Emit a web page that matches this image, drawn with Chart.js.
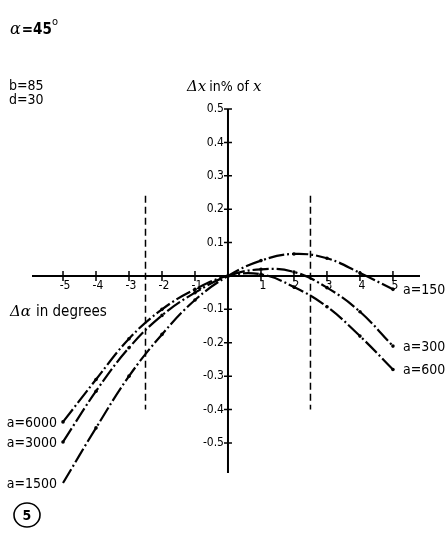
<!DOCTYPE html>
<html lang="en">
<head>
    <meta charset="UTF-8">
    <title>Delta x vs Delta alpha</title>
    <style>
        html, body { margin: 0; padding: 0; background: #fff; }
        canvas { display: block; }
    </style>
</head>
<body>

    <canvas id="myChart" width="446" height="538"></canvas>

    <script src="https://cdn.jsdelivr.net/npm/chart.js"></script>
    <script>
        // values
        const xDeg = [-5, -4, -3, -2, -1, 0, 1, 2, 3, 4, 5];
        const a1500 = [-0.62, -0.455, -0.3, -0.175, -0.072, 0, 0.046, 0.066, 0.053, 0.009, -0.04];
        const a3000 = [-0.497, -0.345, -0.215, -0.118, -0.05, 0, 0.02, 0.012, -0.035, -0.107, -0.21];
        const a6000 = [-0.437, -0.31, -0.188, -0.1, -0.04, 0, 0.005, -0.033, -0.092, -0.18, -0.28];
        const seriesNames = ['a=1500', 'a=3000', 'a=6000'];

        const limitX = [-2.5, 2.5];
        const limitY = [0.24, -0.4];

        const xTicks = [-5, -4, -3, -2, -1, 1, 2, 3, 4, 5];
        const yTicks = [0.5, 0.4, 0.3, 0.2, 0.1, -0.1, -0.2, -0.3, -0.4, -0.5];
        const yTickLabels = ['0.5', '0.4', '0.3', '0.2', '0.1', '-0.1', '-0.2', '-0.3', '-0.4', '-0.5'];

        const sansC = '"DejaVu Sans Condensed", "Liberation Sans Narrow", "Roboto Condensed", "DejaVu Sans", sans-serif';
        const serifI = 'italic 15px "DejaVu Serif", "Liberation Serif", serif';

        function toPoints(ys) {
            return xDeg.map((x, i) => ({ x: x, y: ys[i] }));
        }

        function curve(ys) {
            return {
                data: toPoints(ys),
                borderColor: '#000',
                borderWidth: 2.2,
                borderDash: [16, 3, 2, 3],
                pointRadius: 1.8,
                pointBackgroundColor: '#000',
                pointBorderWidth: 0,
                tension: 0.4,
                fill: false,
                clip: false
            };
        }

        function limitLine(x) {
            return {
                data: [{ x: x, y: limitY[0] }, { x: x, y: limitY[1] }],
                borderColor: '#000',
                borderWidth: 1.5,
                borderDash: [7, 4],
                pointRadius: 0,
                tension: 0,
                fill: false
            };
        }

        // draw a row of text pieces in different fonts
        function drawRuns(ctx, x, y, runs) {
            ctx.textAlign = 'left';
            ctx.textBaseline = 'alphabetic';
            runs.forEach(r => {
                ctx.font = r.font;
                ctx.fillText(r.t, x, y + (r.dy || 0));
                x += ctx.measureText(r.t).width + (r.gap || 0);
            });
        }

        const crossAxes = {
            id: 'crossAxes',
            afterDatasetsDraw(chart) {
                const { ctx, chartArea, scales: { x, y } } = chart;
                const x0 = x.getPixelForValue(0);
                const y0 = y.getPixelForValue(0);
                ctx.save();
                ctx.strokeStyle = '#000';
                ctx.fillStyle = '#000';

                // axis lines
                ctx.lineWidth = 2;
                ctx.beginPath();
                ctx.moveTo(chartArea.left, y0);
                ctx.lineTo(chartArea.right, y0);
                ctx.moveTo(x0, chartArea.top);
                ctx.lineTo(x0, chartArea.bottom);
                ctx.stroke();

                // tick crosses
                ctx.lineWidth = 1.5;
                ctx.beginPath();
                xTicks.forEach(v => {
                    const px = x.getPixelForValue(v);
                    ctx.moveTo(px, y0 - 5);
                    ctx.lineTo(px, y0 + 5);
                });
                yTicks.forEach(v => {
                    const py = y.getPixelForValue(v);
                    ctx.moveTo(x0 - 4, py);
                    ctx.lineTo(x0 + 4, py);
                });
                ctx.stroke();

                // tick labels
                ctx.font = '12px ' + sansC;
                ctx.textAlign = 'center';
                ctx.textBaseline = 'top';
                xTicks.forEach(v => {
                    ctx.fillText(String(v), x.getPixelForValue(v) + 2, y0 + 4);
                });
                ctx.textAlign = 'right';
                ctx.textBaseline = 'middle';
                yTicks.forEach((v, i) => {
                    ctx.fillText(yTickLabels[i], x0 - 4, y.getPixelForValue(v));
                });

                // curve labels at both ends
                ctx.font = '14px ' + sansC;
                [a1500, a3000, a6000].forEach((ys, i) => {
                    const last = ys.length - 1;
                    ctx.textAlign = 'left';
                    ctx.fillText(seriesNames[i], x.getPixelForValue(xDeg[last]) + 10, y.getPixelForValue(ys[last]) + 1);
                    ctx.textAlign = 'right';
                    ctx.fillText(seriesNames[i], x.getPixelForValue(xDeg[0]) - 6, y.getPixelForValue(ys[0]) + 1);
                });

                // axis titles
                drawRuns(ctx, 187, 91, [
                    { t: '\u0394', font: serifI },
                    { t: 'x', font: serifI, gap: 3 },
                    { t: 'in% of ', font: '14px ' + sansC },
                    { t: 'x', font: serifI }
                ]);
                drawRuns(ctx, 10, 316, [
                    { t: '\u0394\u03b1', font: serifI, gap: 5 },
                    { t: 'in degrees', font: '15px ' + sansC }
                ]);

                // parameters
                drawRuns(ctx, 10, 34, [
                    { t: '\u03b1', font: 'italic 16px "DejaVu Serif", serif', gap: 1 },
                    { t: '=45', font: 'bold 15px ' + sansC },
                    { t: 'o', font: '11px ' + sansC, dy: -9 }
                ]);
                ctx.font = '14px ' + sansC;
                ctx.textAlign = 'left';
                ctx.textBaseline = 'alphabetic';
                ctx.fillText('b=85', 9, 90);
                ctx.fillText('d=30', 9, 104);

                // figure number
                ctx.lineWidth = 1.6;
                ctx.beginPath();
                ctx.ellipse(27, 515, 13, 12, 0, 0, Math.PI * 2);
                ctx.stroke();
                ctx.font = 'bold 14px ' + sansC;
                ctx.textAlign = 'center';
                ctx.textBaseline = 'middle';
                ctx.fillText('5', 27, 516);

                ctx.restore();
            }
        };

        const ctx = document.getElementById('myChart');
        new Chart(ctx, {
            type: 'line',
            data: {
                datasets: [
                    curve(a1500),
                    curve(a3000),
                    curve(a6000),
                    limitLine(limitX[0]),
                    limitLine(limitX[1])
                ]
            },
            options: {
                responsive: false,
                animation: false,
                layout: { padding: { left: 32, right: 26, top: 109, bottom: 65 } },
                plugins: { legend: { display: false }, tooltip: { enabled: false } },
                scales: {
                    x: { type: 'linear', min: -5.94, max: 5.82, display: false },
                    y: { type: 'linear', min: -0.59, max: 0.5, display: false }
                }
            },
            plugins: [crossAxes]
        });
    </script>

</body>
</html>
